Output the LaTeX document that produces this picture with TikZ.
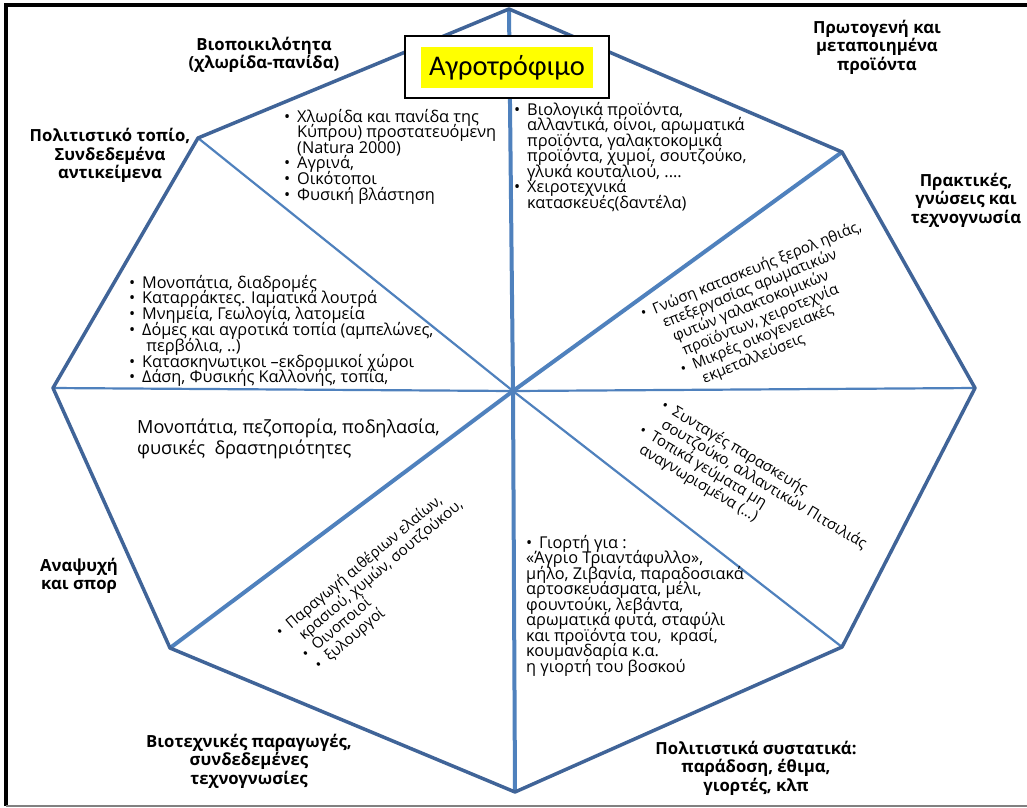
\documentclass[tikz,border=0pt]{standalone}
\usepackage{fontspec}
\setmainfont{Open Sans}
\newfontfamily\titlefont{Carlito}
\definecolor{edgeblue}{RGB}{64,100,152}
\definecolor{spokeblue}{RGB}{79,129,189}
\definecolor{hl}{RGB}{255,255,0}
\tikzset{
  outerline/.style={draw=edgeblue, line width=3.5pt, line join=round},
  thickspoke/.style={draw=spokeblue, line width=4pt},
  thinspoke/.style={draw=spokeblue, line width=2.2pt},
  lbl/.style={align=center, font=\bfseries\fontsize{16.7}{18.6}\selectfont, inner sep=0pt},
  li/.style={anchor=base west, inner sep=0pt, font=\fontsize{16.3}{15.5}\selectfont},
  lir/.style={anchor=base west, inner sep=0pt, font=\fontsize{15}{15}\selectfont},
  lbig/.style={anchor=base west, inner sep=0pt, font=\fontsize{18.1}{20}\selectfont},
}
\newcommand{\bt}{\makebox[13pt][l]{•}}
\newcommand{\ct}{\makebox[13pt][l]{}}
\newcommand{\fourdots}{....}
\newcommand{\twodots}{..}
\begin{document}
\begin{tikzpicture}[x=1pt,y=-1pt]
\useasboundingbox (0,0) rectangle (1027,807);
\fill[white] (0,0) rectangle (1027,807);
% frame
\draw[black, line width=4pt] (1027,5) -- (6,5) -- (6,806);
\draw[gray, line width=1.5pt] (6,806) -- (1027,806);
% vertices
\coordinate (T) at (509,9);
\coordinate (UR) at (842,152);
\coordinate (R) at (975,388);
\coordinate (LR) at (842,647);
\coordinate (B) at (515,792);
\coordinate (LL) at (170,648);
\coordinate (L) at (53,388);
\coordinate (UL) at (198,138);
\coordinate (C) at (513,391);
% spokes
\draw[thinspoke] (C) -- (UL);
\draw[thinspoke] (C) -- (LR);
\draw[thinspoke] (C) -- (L);
\draw[thinspoke] (C) -- (R);
\draw[thickspoke] (C) -- (T);
\draw[thickspoke] (C) -- (B);
\draw[thickspoke] (C) -- (UR);
\draw[thickspoke] (C) -- (LL);
% outer polygon
\draw[outerline] (T) -- (UR) -- (R) -- (LR) -- (B) -- (LL) -- (L) -- (UL) -- cycle;
% bold labels
\node[lbl] (bio) at (264,55) {Βιοποικιλότητα\\(χλωρίδα-πανίδα)};
\node[lbl] (pol) at (110,155.5) {Πολιτιστικό τοπίο,\\Συνδεδεμένα\\αντικείμενα};
\node[lbl] (prot) at (877,47) {Πρωτογενή και\\μεταποιημένα\\προϊόντα};
\node[lbl] (prak) at (966,200) {Πρακτικές,\\γνώσεις και\\τεχνογνωσία};
\node[lbl] (anap) at (79,576) {Αναψυχή\\και σπορ};
\node[lbl] (biot) at (249,761) {Βιοτεχνικές παραγωγές,\\συνδεδεμένες\\τεχνογνωσίες};
\node[lbl] (polsys) at (756,768) {Πολιτιστικά συστατικά:\\παράδοση, έθιμα,\\γιορτές, κλπ};
% list A (top left sector)
\foreach \t [count=\i from 0] in {{\bt Χλωρίδα και πανίδα της},{\ct Κύπρου) προστατευόμενη},{\ct (Natura 2000)},{\bt Αγρινά,},{\bt Οικότοποι},{\bt Φυσική βλάστηση}}
  \node[li] (a\i) at (284,122+\i*15.6) {\t};
% list B (top right sector)
\foreach \t [count=\i from 0] in {{\bt Βιολογικά προϊόντα,},{\ct αλλαντικά, οίνοι, αρωματικά},{\ct προϊόντα, γαλακτοκομικά},{\ct προϊόντα, χυμοί, σουτζούκο,},{\ct γλυκά κουταλιού, \fourdots},{\bt Χειροτεχνικά},{\ct κατασκευές(δαντέλα)}}
  \node[li] (b\i) at (514,115+\i*15.5) {\t};
% list C (left upper sector)
\foreach \t [count=\i from 0] in {{\bt Μονοπάτια, διαδρομές},{\bt Καταρράκτες. Ιαματικά λουτρά},{\bt Μνημεία, Γεωλογία, λατομεία},{\bt Δόμες και αγροτικά τοπία (αμπελώνες,},{\ct\ περβόλια, \twodots)},{\bt Κατασκηνωτικοι –εκδρομικοί χώροι},{\bt Δάση, Φυσικής Καλλονής, τοπία,}}
  \node[li] (c\i) at (129,288+\i*15.8) {\t};
% text D (left lower sector)
\node[lbig] (d0) at (137,433) {Μονοπάτια, πεζοπορία, ποδηλασία,};
\node[lbig] (d1) at (137,454) {φυσικές \ δραστηριότητες};
% list H (bottom right sector)
\foreach \t [count=\i from 0] in {{\bt Γιορτή για :},{«Άγριο Τριαντάφυλλο»,},{μήλο, Ζιβανία, παραδοσιακά},{αρτοσκευάσματα, μέλι,},{φουντούκι, λεβάντα,},{αρωματικά φυτά, σταφύλι},{και προϊόντα του, \ κρασί,},{κουμανδαρία κ.α.},{η γιορτή του βοσκού}}
  \node[li] (h\i) at (526,548+\i*15.5) {\t};
% rotated list E (bottom left sector)
\begin{scope}[shift={(281,638)}, rotate=40]
\foreach \t [count=\i from 0] in {{\bt Παραγωγή αιθέριων ελαίων,},{\ct κρασιού, χυμών, σουτζούκου,},{\bt Οινοποιοί},{\bt ξυλουργοί}}
  \node[lir, rotate=40] (e\i) at (\i*3,\i*16.5) {\t};
\end{scope}
% rotated list F (right upper sector)
\begin{scope}[shift={(643,319)}, rotate=22]
\foreach \t [count=\i from 0] in {{\bt Γνώση κατασκευής ξερολ ηθιάς,},{\ct επεξεργασίας αρωματικών},{\ct φυτών γαλακτοκομικών},{\ct προϊόντων, χειροτεχνία},{\bt Μικρές οικογενειακές},{\ct εκμεταλλεύσεις}}
  \node[lir, rotate=22] (f\i) at (\i*4,\i*16.5) {\t};
\end{scope}
% rotated list G (right lower sector)
\begin{scope}[shift={(660,408)}, rotate=-31]
\foreach \t [count=\i from 0] in {{\bt Συνταγές παρασκευής},{\ct σουτζούκο, αλλαντικών Πιτσιλιάς},{\bt Τοπικά γεύματα μη},{\ct αναγνωρισμένα (…)}}
  \node[lir, rotate=-31] (g\i) at (-\i*3,\i*16.4) {\t};
\end{scope}
% title
\node[draw=black, line width=1.5pt, fill=white, minimum width=204pt, minimum height=62pt, inner sep=0pt] (titlebox) at (507,67) {};
\node[fill=hl, minimum width=172pt, minimum height=41pt, inner sep=0pt, font=\titlefont\fontsize{28.5}{30}\selectfont] (title) at (507,67.5) {Αγροτρόφιμο};
\end{tikzpicture}
\end{document}
